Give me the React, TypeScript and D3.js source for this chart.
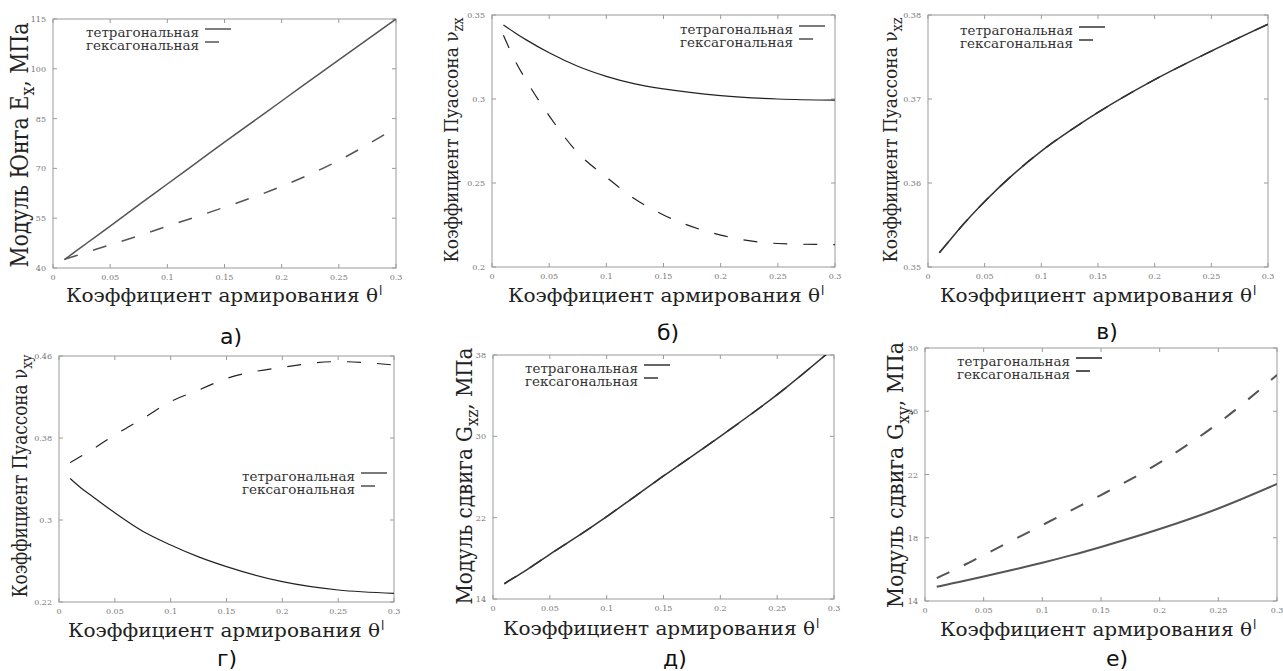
import * as d3 from 'd3';

// reinforcement coefficient (x) shared by all panels
const theta = [0.01, 0.02, 0.03, 0.05, 0.075, 0.1, 0.125, 0.15, 0.2, 0.25, 0.3];
const xTicks = [0, 0.05, 0.1, 0.15, 0.2, 0.25, 0.3];
const seriesNames = ['тетрагональная', 'гексагональная'];

// а) Young modulus Ex, MPa
const exTetra = [42.5, 45.1, 47.6, 52.6, 59, 65.3, 71.6, 77.9, 90.3, 102.7, 115];
const exHexa = [42.6, 43.7, 44.8, 47, 49.7, 52.6, 55.4, 58.3, 64.6, 72.4, 82.3];
const exTicks = [40, 55, 70, 85, 100, 115];

// б) Poisson ratio nu_zx
const nuZxTetra = [0.344, 0.3395, 0.3352, 0.3275, 0.3195, 0.3135, 0.309, 0.306, 0.302, 0.3, 0.2993];
const nuZxHexa = [0.338, 0.323, 0.311, 0.29, 0.268, 0.2535, 0.2405, 0.231, 0.219, 0.214, 0.2133];
const nuZxTicks = [0.2, 0.25, 0.3, 0.35];

// в) Poisson ratio nu_xz
const nuXzTetra = [0.3517, 0.3533, 0.3549, 0.3578, 0.361, 0.3638, 0.3662, 0.3684, 0.3723, 0.3757, 0.3789];
const nuXzHexa = [0.3517, 0.3533, 0.3549, 0.3578, 0.361, 0.3638, 0.3662, 0.3684, 0.3723, 0.3757, 0.3789];
const nuXzTicks = [0.35, 0.36, 0.37, 0.38];

// г) Poisson ratio nu_xy
const nuXyTetra = [0.3405, 0.331, 0.323, 0.307, 0.289, 0.2756, 0.264, 0.2545, 0.2398, 0.2317, 0.2285];
const nuXyHexa = [0.356, 0.3624, 0.369, 0.383, 0.399, 0.4155, 0.4268, 0.438, 0.449, 0.4545, 0.4512];
const nuXyTicks = [0.22, 0.3, 0.38, 0.46];

// д) shear modulus Gxz, MPa
const gXzTetra = [15.5, 16.2, 16.9, 18.4, 20.2, 22.1, 24.1, 26.1, 30, 34.1, 38.7];
const gXzHexa = [15.5, 16.2, 16.9, 18.4, 20.2, 22.1, 24.1, 26.1, 30, 34.1, 38.7];
const gXzTicks = [14, 22, 30, 38];

// е) shear modulus Gxy, MPa
const gXyTetra = [14.9, 15.06, 15.22, 15.55, 15.98, 16.42, 16.9, 17.42, 18.55, 19.85, 21.4];
const gXyHexa = [15.45, 15.8, 16.15, 16.9, 17.85, 18.8, 19.75, 20.7, 22.75, 25.25, 28.3];
const gXyTicks = [14, 18, 22, 26, 30];

const SERIF = '"DejaVu Serif", serif';
const SANS = '"DejaVu Sans", sans-serif';

const panels = [
  {
    id: 'a', box: [53, 19, 396, 268], ticks: exTicks, tetra: exTetra, hexa: exHexa,
    ylab: { main: 'Модуль Юнга E', sub: 'x', tail: ', МПа', x: 28, cy: 145, size: 24, len: 245 },
    xlab: { cx: 226, y: 302 }, legend: { x: 86, y: 37 }, caption: { t: 'а)', x: 231, y: 344 },
    stroke: '#555', sw: 1.5,
  },
  {
    id: 'b', box: [492, 15, 835, 267], ticks: nuZxTicks, tetra: nuZxTetra, hexa: nuZxHexa,
    ylab: { main: 'Коэффициент Пуассона ν', sub: 'zx', tail: '', x: 458, cy: 140, size: 19, len: 245 },
    xlab: { cx: 668, y: 302 }, legend: { x: 680, y: 34 }, caption: { t: 'б)', x: 668, y: 340 },
    stroke: '#222', sw: 1.2,
  },
  {
    id: 'c', box: [928, 15, 1268, 267], ticks: nuXzTicks, tetra: nuXzTetra, hexa: nuXzHexa,
    ylab: { main: 'Коэффициент Пуассона ν', sub: 'xz', tail: '', x: 897, cy: 140, size: 19, len: 245 },
    xlab: { cx: 1100, y: 302 }, legend: { x: 960, y: 35 }, caption: { t: 'в)', x: 1107, y: 339 },
    stroke: '#333', sw: 1.5,
  },
  {
    id: 'g', box: [59, 356, 394, 602], ticks: nuXyTicks, tetra: nuXyTetra, hexa: nuXyHexa,
    ylab: { main: 'Коэффициент Пуассона ν', sub: 'xy', tail: '', x: 27, cy: 476, size: 20, len: 243 },
    xlab: { cx: 228, y: 637 }, legend: { x: 242, y: 481 }, caption: { t: 'г)', x: 227, y: 666 },
    stroke: '#222', sw: 1.2,
  },
  {
    id: 'd', box: [493, 355, 834, 599], ticks: gXzTicks, tetra: gXzTetra, hexa: gXzHexa,
    ylab: { main: 'Модуль сдвига G', sub: 'xz', tail: ', МПа', x: 472, cy: 476, size: 22, len: 257 },
    xlab: { cx: 663, y: 635 }, legend: { x: 525, y: 373 }, caption: { t: 'д)', x: 675, y: 666 },
    stroke: '#333', sw: 1.5,
  },
  {
    id: 'e', box: [925, 348, 1277, 601], ticks: gXyTicks, tetra: gXyTetra, hexa: gXyHexa,
    ylab: { main: 'Модуль сдвига G', sub: 'xy', tail: ', МПа', x: 903, cy: 475, size: 22, len: 266 },
    xlab: { cx: 1100, y: 636 }, legend: { x: 957, y: 366 }, caption: { t: 'е)', x: 1117, y: 666 },
    stroke: '#555', sw: 2,
  },
];

const DASH = '14,16';

function Panel({ p }) {
  const [l, t, r, b] = p.box;
  const x = d3.scaleLinear().domain([0, 0.3]).range([l, r]);
  const y = d3.scaleLinear().domain([p.ticks[0], p.ticks[p.ticks.length - 1]]).range([b, t]);
  const line = d3.line<number>().x((_, i) => x(theta[i])).y(d => y(d)).curve(d3.curveMonotoneX);
  const clipId = `clip-${p.id}`;
  const tk = 4;
  const ys = p.ylab.size;

  return (
    <g>
      <clipPath id={clipId}><rect x={l} y={t} width={r - l} height={b - t} /></clipPath>
      <rect x={l} y={t} width={r - l} height={b - t} fill="none" stroke="#9a9a9a" strokeWidth={1} />
      {xTicks.map(v => (
        <g key={'x' + v}>
          <line x1={x(v)} x2={x(v)} y1={b} y2={b - tk} stroke="#9a9a9a" />
          <line x1={x(v)} x2={x(v)} y1={t} y2={t + tk} stroke="#9a9a9a" />
          <text x={x(v)} y={b + 12} textAnchor="middle" fontSize={8} fill="#777" fontFamily={SERIF}>{String(v)}</text>
        </g>
      ))}
      {p.ticks.map(v => (
        <g key={'y' + v}>
          <line x1={l} x2={l + tk} y1={y(v)} y2={y(v)} stroke="#9a9a9a" />
          <line x1={r} x2={r - tk} y1={y(v)} y2={y(v)} stroke="#9a9a9a" />
          <text x={l - 7} y={y(v) + 3} textAnchor="end" fontSize={8} fill="#777" fontFamily={SERIF}>{String(v)}</text>
        </g>
      ))}
      <g clipPath={`url(#${clipId})`} fill="none" stroke={p.stroke} strokeWidth={p.sw}>
        <path d={line(p.tetra) || ''} />
        <path d={line(p.hexa) || ''} strokeDasharray={DASH} />
      </g>
      {seriesNames.map((name, i) => (
        <g key={name}>
          <text x={p.legend.x} y={p.legend.y + i * 13} fontSize={12} fill="#333" fontFamily={SERIF}
            textLength={113} lengthAdjust="spacingAndGlyphs">{name}</text>
          <line x1={p.legend.x + 119} x2={p.legend.x + 145} y1={p.legend.y + i * 13 - 8} y2={p.legend.y + i * 13 - 8}
            stroke={p.stroke} strokeWidth={p.sw} strokeDasharray={i ? DASH : undefined} />
        </g>
      ))}
      <text transform={`translate(${p.ylab.x},${p.ylab.cy}) rotate(-90)`} textAnchor="middle"
        fontSize={ys} fill="#222" fontFamily={SERIF} textLength={p.ylab.len} lengthAdjust="spacingAndGlyphs">
        {p.ylab.main}
        <tspan dy={ys * 0.25} fontSize={ys * 0.75}>{p.ylab.sub}</tspan>
        {p.ylab.tail && <tspan dy={-ys * 0.25}>{p.ylab.tail}</tspan>}
      </text>
      <text x={p.xlab.cx - 4} y={p.xlab.y} textAnchor="middle" fontSize={19} fill="#222" fontFamily={SERIF}
        textLength={312} lengthAdjust="spacingAndGlyphs">Коэффициент армирования θ</text>
      <text x={p.xlab.cx + 153} y={p.xlab.y - 7} fontSize={12} fill="#222" fontFamily={SANS}>l</text>
      <text x={p.caption.x} y={p.caption.y} textAnchor="middle" fontSize={22} fill="#111" fontFamily={SANS}>{p.caption.t}</text>
    </g>
  );
}

export default function App() {
  return (
    <svg width={1283} height={671} style={{ position: 'absolute', left: 0, top: 0, background: '#fff' }}>
      <rect width={1283} height={671} fill="#fff" />
      {panels.map(p => <Panel key={p.id} p={p} />)}
    </svg>
  );
}
